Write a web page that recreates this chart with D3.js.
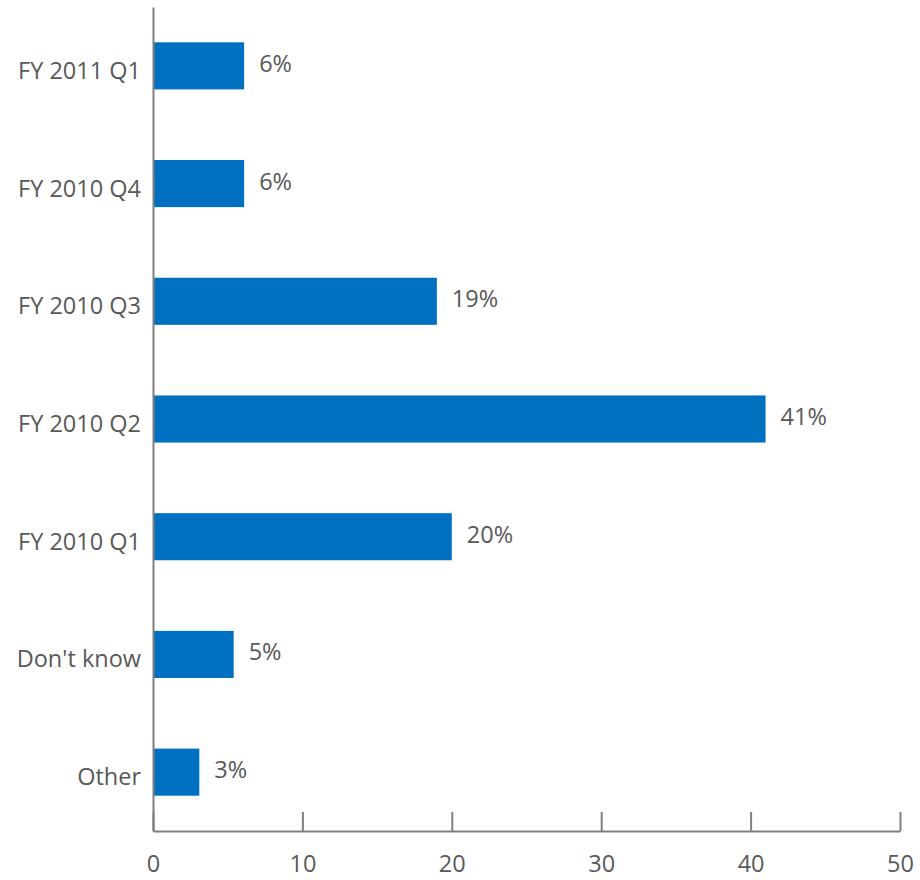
<!DOCTYPE html>
<html>
<head>
<meta charset="utf-8">
<script src="https://cdn.jsdelivr.net/npm/d3@7"></script>
<style>
  html, body { margin: 0; padding: 0; background: #fff; }
  svg text { font-family: "Open Sans", "Noto Sans", sans-serif; fill: #595959; }
</style>
</head>
<body>
<svg id="chart" width="920" height="880"></svg>
<script>
// Survey responses by fiscal quarter (percent of respondents)
const categories = ["FY 2011 Q1", "FY 2010 Q4", "FY 2010 Q3", "FY 2010 Q2", "FY 2010 Q1", "Don't know", "Other"];
const values = [6.1, 6.1, 19, 41, 20, 5.4, 3.1];
const xTicks = [0, 10, 20, 30, 40, 50];

const svg = d3.select("#chart");
const margin = { left: 153, top: 7, bottom: 49 };
const width = 920, height = 880;
const plotRight = 900;
const axisY = height - margin.bottom; // horizontal axis baseline
const fontSize = "23.5px";

const x = d3.scaleLinear().domain([0, 50]).range([margin.left, plotRight]);
const y = d3.scaleBand().domain(categories).range([margin.top, axisY]).paddingInner(0.6).paddingOuter(0.3);

const barColor = "#0070C0";
const axisColor = "#7f7f7f";

// Bars
svg.append("g").selectAll("rect")
  .data(values)
  .join("rect")
  .attr("x", x(0))
  .attr("y", (d, i) => y(categories[i]))
  .attr("width", d => x(d) - x(0))
  .attr("height", y.bandwidth())
  .attr("fill", barColor);

// Value labels
svg.append("g").selectAll("text")
  .data(values)
  .join("text")
  .attr("x", d => x(d) + 15)
  .attr("y", (d, i) => y(categories[i]) + y.bandwidth() / 2 - 3)
  .attr("dominant-baseline", "central")
  .style("font-size", fontSize)
  .text(d => Math.round(d) + "%");

// X axis with inward ticks
const xAxis = d3.axisBottom(x).tickValues(xTicks).tickSize(0).tickPadding(24);
const gx = svg.append("g").attr("transform", `translate(0,${axisY})`).call(xAxis);
gx.select(".domain").attr("stroke", axisColor).attr("stroke-width", 2);
gx.selectAll(".tick text").style("font-size", fontSize).attr("fill", "#595959");
gx.selectAll(".tick").append("line")
  .attr("y1", 0).attr("y2", -19)
  .attr("stroke", axisColor).attr("stroke-width", 2);

// Y axis (line only, no ticks); labels sit slightly below the bar centre
const yAxis = d3.axisLeft(y).tickSize(0).tickPadding(12);
const gy = svg.append("g").attr("transform", `translate(${margin.left},0)`).call(yAxis);
gy.select(".domain").attr("stroke", axisColor).attr("stroke-width", 2);
gy.selectAll(".tick text").style("font-size", fontSize).attr("fill", "#595959").attr("dy", "0.55em");
</script>
</body>
</html>
